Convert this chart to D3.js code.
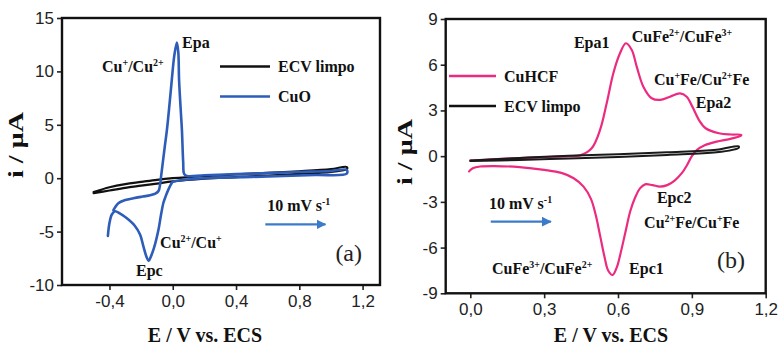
<!DOCTYPE html>
<html>
<head>
<meta charset="utf-8">
<script src="https://cdn.jsdelivr.net/npm/d3@7/dist/d3.min.js"></script>
<style>
  html, body { margin: 0; padding: 0; background: #fff; }
  svg { display: block; }
  .tick-label { font-family: "Liberation Sans", Arial, sans-serif; font-size: 17px; fill: #222; }
  .serif-b { font-family: "Liberation Serif", "Times New Roman", serif; font-weight: bold; fill: #111; }
</style>
</head>
<body>
<svg id="chart" width="779" height="352"></svg>
<script>
// ---- Panel (a): CuO vs clean electrode ----
const cuoE = [-0.375,-0.344,-0.30,-0.249,-0.19,-0.143,-0.11,-0.09,-0.08,-0.075,-0.05,-0.037,-0.02,-0.006,0.01,0.026,0.035,0.04,0.05,0.058,0.066,0.072,0.09,0.2,0.4,0.6,0.8,1.0,1.1,
              1.1,0.9,0.7,0.5,0.3,0.15,0.05,0.0,-0.006,-0.027,-0.045,-0.059,-0.075,-0.09,-0.12,-0.14,-0.152,-0.165,-0.185,-0.206,-0.24,-0.29,-0.335,-0.365,-0.385,-0.40,-0.41];
const cuoI = [-3.0,-2.35,-2.05,-1.88,-1.72,-1.6,-1.45,-1.2,-0.6,0.0,3.0,4.5,7.0,9.2,11.5,12.7,11.8,9.2,6.5,4.5,1.5,0.4,0.2,0.28,0.38,0.48,0.58,0.68,0.78,
              0.42,0.3,0.2,0.12,0.05,-0.05,-0.2,-0.35,-0.45,-1.05,-1.7,-2.3,-3.5,-4.8,-6.6,-7.4,-7.75,-7.4,-6.4,-5.3,-4.45,-3.76,-3.3,-3.1,-3.4,-4.2,-5.4];
const ecvAE = [-0.50,-0.4,-0.3,-0.2,-0.1,0.0,0.2,0.4,0.6,0.8,1.0,1.1,
               1.1,1.0,0.8,0.6,0.4,0.2,0.0,-0.1,-0.2,-0.3,-0.4,-0.5];
const ecvAI = [-1.3,-0.85,-0.55,-0.35,-0.15,0.0,0.2,0.35,0.5,0.65,0.85,1.05,
               0.85,0.6,0.4,0.25,0.1,-0.05,-0.3,-0.5,-0.7,-0.9,-1.15,-1.4];
const ticksAX = [-0.4, 0.0, 0.4, 0.8, 1.2];
const ticksAY = [-10, -5, 0, 5, 10, 15];

// ---- Panel (b): CuHCF vs clean electrode ----
const cuhcfE = [0.0,0.1,0.2,0.3,0.4,0.446,0.493,0.527,0.554,0.581,0.608,0.632,0.656,0.676,0.703,0.737,0.771,0.811,0.852,0.879,0.902,0.929,0.956,1.01,1.06,1.1,
                1.1,1.06,1.0,0.95,0.92,0.9,0.88,0.86,0.83,0.8,0.77,0.74,0.71,0.69,0.67,0.65,0.63,0.61,0.595,0.578,0.56,0.545,0.527,0.51,0.49,0.46,0.42,0.37,0.3,0.2,0.1,0.04,0.01,-0.005];
const cuhcfI = [-0.3,-0.2,-0.12,-0.06,0.0,0.05,0.52,1.72,3.47,5.44,6.75,7.41,6.97,5.87,4.56,3.8,3.69,3.9,4.12,3.9,3.25,2.37,1.83,1.5,1.42,1.4,
                1.35,1.15,0.95,0.7,0.4,0.0,-0.6,-1.1,-1.6,-1.9,-2.0,-1.9,-1.85,-2.1,-2.7,-3.6,-5.0,-6.4,-7.3,-7.8,-7.5,-6.6,-5.2,-3.9,-2.8,-2.0,-1.45,-1.1,-0.9,-0.72,-0.65,-0.68,-0.8,-1.0];
const ecvBE = [0.0,0.2,0.4,0.6,0.8,1.0,1.09,
               1.09,1.0,0.8,0.6,0.4,0.2,0.0];
const ecvBI = [-0.28,-0.12,0.02,0.12,0.25,0.42,0.65,
               0.55,0.25,0.08,-0.05,-0.15,-0.25,-0.32];
const ticksBX = [0.0, 0.3, 0.6, 0.9, 1.2];
const ticksBY = [-9, -6, -3, 0, 3, 6, 9];

const locale = d3.formatLocale({decimal: ",", thousands: ".", grouping: [3], currency: ["", ""], minus: "-"});
const fmtX = locale.format(".1f");
const fmtY = locale.format("d");

const svg = d3.select("#chart");

const BLUE = "#2d5db8";
const PINK = "#ec2a80";
const ARROW = "#3c7bc9";

svg.append("defs").append("marker")
  .attr("id", "head")
  .attr("viewBox", "0 0 10 10")
  .attr("refX", 9).attr("refY", 5)
  .attr("markerWidth", 4.5).attr("markerHeight", 4.5)
  .attr("orient", "auto")
  .append("path").attr("d", "M0,0 L10,5 L0,10 z").attr("fill", ARROW);

// Text with superscript runs: parts = [[text, isSup], ...]
function rich(g, x, y, parts, size) {
  const t = g.append("text").attr("class", "serif-b").attr("x", x).attr("y", y).style("font-size", size + "px");
  const shift = size * 0.38;
  let raised = false;
  parts.forEach(([s, sup]) => {
    const span = t.append("tspan").text(s);
    if (sup && !raised) { span.attr("dy", -shift); raised = true; }
    else if (!sup && raised) { span.attr("dy", shift); raised = false; }
    span.style("font-size", (sup ? size * 0.62 : size) + "px");
  });
  return t;
}

function panel(cfg) {
  const g = svg.append("g");
  const x = d3.scaleLinear().domain(cfg.xDomain).range(cfg.xRange);
  const y = d3.scaleLinear().domain(cfg.yDomain).range(cfg.yRange);
  const [x0, x1] = cfg.xRange, [y1, y0] = cfg.yRange;

  // axes (outward ticks)
  const ax = g.append("g").attr("transform", `translate(0,${y1})`)
    .call(d3.axisBottom(x).tickValues(cfg.ticksX).tickFormat(fmtX).tickSize(5).tickPadding(5));
  const ay = g.append("g").attr("transform", `translate(${x0},0)`)
    .call(d3.axisLeft(y).tickValues(cfg.ticksY).tickFormat(fmtY).tickSize(5).tickPadding(3));
  [ax, ay].forEach(a => {
    a.select(".domain").remove();
    a.selectAll(".tick line").attr("stroke", "#222").attr("stroke-width", 1.6);
    a.selectAll(".tick text").attr("class", "tick-label").attr("fill", null);
  });

  const line = d3.line().x(d => x(d[0])).y(d => y(d[1])).curve(d3.curveCatmullRom.alpha(0.5));
  cfg.series.forEach(s => {
    const pts = s.e.map((e, i) => [e, s.i[i]]);
    g.append("path").attr("d", line(pts)).attr("fill", "none")
      .attr("stroke", s.color).attr("stroke-width", s.width)
      .attr("stroke-linejoin", "round").attr("stroke-linecap", "round");
  });

  // frame
  g.append("rect").attr("x", x0).attr("y", y0).attr("width", x1 - x0).attr("height", y1 - y0)
    .attr("fill", "none").attr("stroke", "#111").attr("stroke-width", 2.4);

  // axis titles
  g.append("text").attr("class", "serif-b").attr("text-anchor", "middle")
    .attr("x", cfg.xTitleX).attr("y", 342).style("font-size", "20px").text("E / V vs. ECS");
  g.append("text").attr("class", "serif-b").attr("text-anchor", "middle")
    .attr("transform", `translate(${cfg.yTitleX},${cfg.yTitleY}) rotate(-90)`)
    .attr("textLength", 66).attr("lengthAdjust", "spacingAndGlyphs")
    .style("font-size", "20px").text("i / \u03BCA");

  // legend
  cfg.legend.forEach((l, k) => {
    const ly = cfg.legendY + k * 30;
    g.append("line").attr("x1", cfg.legendX).attr("x2", cfg.legendX + cfg.legendLen)
      .attr("y1", ly).attr("y2", ly).attr("stroke", l.color).attr("stroke-width", 2.6);
    g.append("text").attr("class", "serif-b").attr("x", cfg.legendX + cfg.legendLen + 8)
      .attr("y", ly + 5.5).style("font-size", "16px").text(l.label);
  });

  // annotations
  cfg.notes.forEach(n => rich(g, x(n.at[0]), y(n.at[1]), n.parts, n.size || 16));

  // scan-rate arrow
  g.append("line").attr("x1", x(cfg.arrow[0])).attr("x2", x(cfg.arrow[1]))
    .attr("y1", y(cfg.arrow[2])).attr("y2", y(cfg.arrow[2]))
    .attr("stroke", ARROW).attr("stroke-width", 2.2).attr("marker-end", "url(#head)");

  // panel letter
  g.append("text").attr("x", x(cfg.letter.at[0])).attr("y", y(cfg.letter.at[1]))
    .style("font-family", "'Liberation Serif', 'Times New Roman', serif")
    .style("font-size", "24px").attr("fill", "#222").text(cfg.letter.text);
}

panel({
  xDomain: [-0.7, 1.31], xRange: [62, 380],
  yDomain: [-10, 15], yRange: [285, 18],
  ticksX: ticksAX, ticksY: ticksAY,
  series: [
    {e: ecvAE, i: ecvAI, color: "#111", width: 2.2},
    {e: cuoE, i: cuoI, color: BLUE, width: 2.6}
  ],
  xTitleX: 205, yTitleX: 23, yTitleY: 145,
  legendX: 220, legendY: 66.5, legendLen: 50,
  legend: [{label: "ECV limpo", color: "#111"}, {label: "CuO", color: BLUE}],
  notes: [
    {at: [0.059, 12.19], parts: [["Epa"]]},
    {at: [-0.447, 9.94], parts: [["Cu"], ["+", 1], ["/Cu"], ["2+", 1]]},
    {at: [-0.08, -6.54], parts: [["Cu"], ["2+", 1], ["/Cu"], ["+", 1]]},
    {at: [-0.232, -9.16], parts: [["Epc"]]},
    {at: [0.597, -3.07], parts: [["10 mV s"], ["-1", 1]]}
  ],
  arrow: [0.585, 0.965, -4.32],
  letter: {at: [1.028, -7.75], text: "(a)"}
});

panel({
  xDomain: [-0.1, 1.2], xRange: [445.7, 765.7],
  yDomain: [-9, 9], yRange: [293.3, 19],
  ticksX: ticksBX, ticksY: ticksBY,
  series: [
    {e: cuhcfE, i: cuhcfI, color: PINK, width: 2.2},
    {e: ecvBE, i: ecvBI, color: "#1a1a1a", width: 2.0}
  ],
  xTitleX: 611, yTitleX: 412, yTitleY: 152,
  legendX: 449, legendY: 76, legendLen: 47,
  legend: [{label: "CuHCF", color: PINK}, {label: "ECV limpo", color: "#111"}],
  notes: [
    {at: [0.421, 7.08], parts: [["Epa1"]]},
    {at: [0.656, 7.49], parts: [["CuFe"], ["2+", 1], ["/CuFe"], ["3+", 1]]},
    {at: [0.746, 4.67], parts: [["Cu"], ["+", 1], ["Fe/Cu"], ["2+", 1], ["Fe"]]},
    {at: [0.916, 3.16], parts: [["Epa2"]]},
    {at: [0.076, -3.49], parts: [["10 mV s"], ["-1", 1]]},
    {at: [0.758, -3.05], parts: [["Epc2"]]},
    {at: [0.706, -4.69], parts: [["Cu"], ["2+", 1], ["Fe/Cu"], ["+", 1], ["Fe"]]},
    {at: [0.088, -7.75], parts: [["CuFe"], ["3+", 1], ["/CuFe"], ["2+", 1]]},
    {at: [0.645, -7.75], parts: [["Epc1"]]}
  ],
  arrow: [0.083, 0.327, -4.3],
  letter: {at: [1.002, -7.32], text: "(b)"}
});
</script>
</body>
</html>
